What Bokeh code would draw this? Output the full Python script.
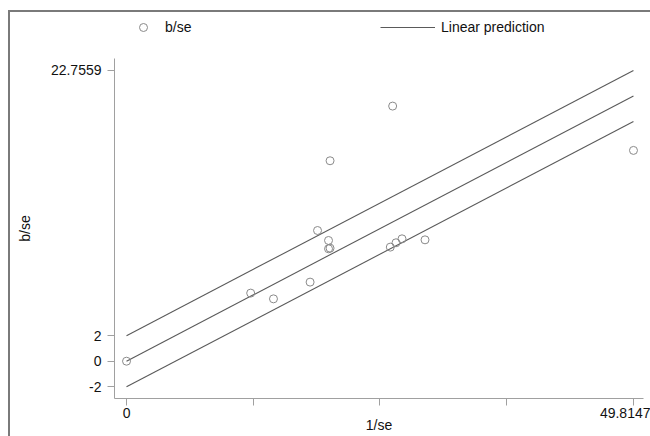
from bokeh.plotting import figure
from bokeh.layouts import column
from bokeh.models import (Range1d, FixedTicker, CustomJSTickFormatter, Legend, LegendItem)
from bokeh.embed import file_html
from bokeh.resources import INLINE

# ---- data ----
inv_se = [0.0, 26.15, 20.0, 18.77, 19.85, 19.85, 20.0, 25.92, 26.48, 27.07, 29.33,
          12.2, 14.44, 18.04, 49.8147]
b_se = [0.0, 19.97, 15.69, 10.23, 9.45, 8.80, 8.85, 8.93, 9.27, 9.58, 9.50,
        5.33, 4.88, 6.19, 16.5]
slope = 0.41667            # pooled estimate (slope of the centre line)
band_offsets = [-2, 0, 2]  # Galbraith band: prediction -2, 0, +2
x_line = [0.0, 49.8147]

x_ticks = [0.0, 49.8147]
x_tick_labels = ["0", "49.8147"]
x_minor_ticks = [12.4537, 24.9074, 37.3610]
y_ticks = [-2.0, 0.0, 2.0, 22.7559]
y_tick_labels = ["-2", "0", "2", "22.7559"]
legend_labels = ["b/se", "Linear prediction"]

FONT = "Liberation Sans"
FS = "14px"
LINE_COLOR = "#5a5a5a"
MARK_COLOR = "#8a8a8a"
W = 640
NAN = float("nan")

# ---- legend strip (its own small figure so nothing is clipped) ----
lf = figure(width=W, height=30, output_backend="svg", toolbar_location=None,
            x_axis_type=None, y_axis_type=None, outline_line_color=None,
            x_range=Range1d(0, 1), y_range=Range1d(0, 1),
            min_border_left=0, min_border_right=0, min_border_top=0, min_border_bottom=0)
lf.grid.visible = False
# placeholder renderers (no visible data) that only provide the legend glyphs
key_pts = lf.scatter([NAN], [NAN], size=8, marker="circle", fill_color=None,
                     line_color=MARK_COLOR, line_width=1)
key_line = lf.line([NAN, NAN], [NAN, NAN], line_color=LINE_COLOR, line_width=1.1)

leg1 = Legend(items=[LegendItem(label=legend_labels[0], renderers=[key_pts])],
              location=(19, 5), glyph_width=20, label_standoff=12)
leg2 = Legend(items=[LegendItem(label=legend_labels[1], renderers=[key_line])],
              location=(266, 5), glyph_width=55, label_standoff=6)
for lg in (leg1, leg2):
    lg.padding = 0
    lg.margin = 0
    lg.border_line_color = None
    lg.background_fill_alpha = 0
    lg.label_text_font = FONT
    lg.label_text_font_size = FS
    lg.label_text_color = "#111111"
    lg.click_policy = "none"
    lf.add_layout(lg)

# ---- main plot ----
p = figure(width=W, height=394, output_backend="svg", toolbar_location=None,
           x_range=Range1d(-1.181, 50.80), y_range=Range1d(-2.92, 23.695),
           min_border_left=104, min_border_right=7, min_border_top=16,
           min_border_bottom=38, outline_line_color=None)
p.grid.visible = False

for off in band_offsets:
    ys = [slope * x + off for x in x_line]
    p.line(x_line, ys, line_color=LINE_COLOR, line_width=1.1)

p.scatter(inv_se, b_se, size=8, marker="circle", fill_color=None,
          line_color=MARK_COLOR, line_width=1)

def fmt(ticks, labels):
    return CustomJSTickFormatter(args=dict(tk=ticks, lb=labels), code="""
        for (let i = 0; i < tk.length; i++) {
            if (Math.abs(tk[i] - tick) < 1e-6) return lb[i];
        }
        return "";
    """)

xa = p.xaxis[0]
xa.ticker = FixedTicker(ticks=x_ticks, minor_ticks=x_minor_ticks)
xa.formatter = fmt(x_ticks, x_tick_labels)
xa.axis_label = "1/se"
ya = p.yaxis[0]
ya.ticker = FixedTicker(ticks=y_ticks, minor_ticks=[])
ya.formatter = fmt(y_ticks, y_tick_labels)
ya.axis_label = "b/se"

for ax in (xa, ya):
    ax.axis_line_color = "#a0a0a0"
    ax.major_tick_line_color = "#a0a0a0"
    ax.minor_tick_line_color = "#a0a0a0"
    ax.major_tick_out = 7
    ax.major_tick_in = 0
    ax.minor_tick_out = 7
    ax.minor_tick_in = 0
    ax.major_label_text_font = FONT
    ax.major_label_text_font_size = FS
    ax.major_label_text_color = "#111111"
    ax.axis_label_text_font = FONT
    ax.axis_label_text_font_size = FS
    ax.axis_label_text_font_style = "normal"
    ax.axis_label_text_color = "#111111"
xa.major_label_standoff = 2
xa.axis_label_standoff = -4
xa.major_label_text_align = "right"
ya.major_label_standoff = 6
ya.axis_label_standoff = 15

layout = column(lf, p, spacing=0,
                styles={"border-left": "2px solid #7a7a7a", "border-top": "2px solid #7a7a7a",
                        "margin-left": "8px", "margin-top": "10px"})

open("out.html", "w").write(file_html(layout, INLINE))
